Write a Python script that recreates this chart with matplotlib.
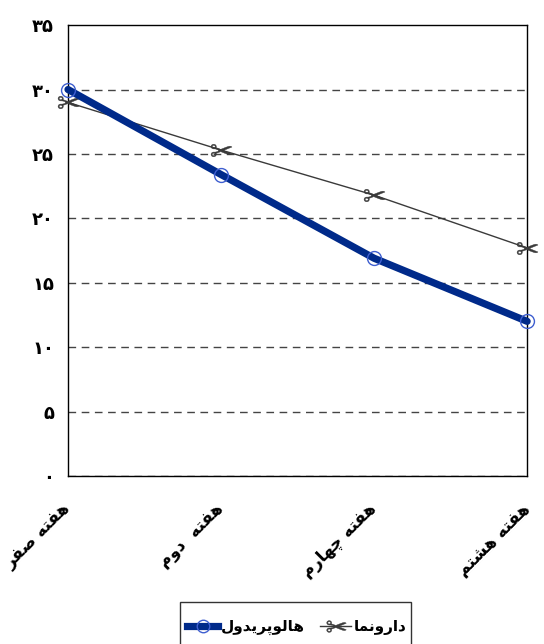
import matplotlib
matplotlib.use("Agg")
import matplotlib.pyplot as plt
from matplotlib.lines import Line2D
from matplotlib.patches import Rectangle
from matplotlib.transforms import ScaledTranslation

# ---- data ----
weeks = ["هفته صفر", "هفته  دوم", "هفته چهارم", "هفته هشتم"]
haloperidol = [30.0, 23.4, 16.9, 12.0]
placebo = [29.0, 25.3, 21.8, 17.7]
series_names = ["هالوپریدول", "دارونما"]
y_ticks = [0, 5, 10, 15, 20, 25, 30, 35]

# ---- minimal Persian shaping (presentation forms + visual order) ----
FORMS = {
    # char: (isolated, final, initial, medial)
    "ا": ("\uFE8D", "\uFE8E", None, None),
    "ب": ("\uFE8F", "\uFE90", "\uFE91", "\uFE92"),
    "ت": ("\uFE95", "\uFE96", "\uFE97", "\uFE98"),
    "د": ("\uFEA9", "\uFEAA", None, None),
    "ر": ("\uFEAD", "\uFEAE", None, None),
    "ش": ("\uFEB5", "\uFEB6", "\uFEB7", "\uFEB8"),
    "ص": ("\uFEB9", "\uFEBA", "\uFEBB", "\uFEBC"),
    "ف": ("\uFED1", "\uFED2", "\uFED3", "\uFED4"),
    "ل": ("\uFEDD", "\uFEDE", "\uFEDF", "\uFEE0"),
    "م": ("\uFEE1", "\uFEE2", "\uFEE3", "\uFEE4"),
    "ن": ("\uFEE5", "\uFEE6", "\uFEE7", "\uFEE8"),
    "ه": ("\uFEE9", "\uFEEA", "\uFEEB", "\uFEEC"),
    "و": ("\uFEED", "\uFEEE", None, None),
    "ی": ("\uFBFC", "\uFBFD", "\uFBFE", "\uFBFF"),
    "پ": ("\uFB56", "\uFB57", "\uFB58", "\uFB59"),
    "چ": ("\uFB7A", "\uFB7B", "\uFB7C", "\uFB7D"),
}


def joins_left(ch):
    return ch in FORMS and FORMS[ch][2] is not None


def shape(text):
    out = []
    for i, ch in enumerate(text):
        if ch not in FORMS:
            out.append(ch)
            continue
        prev = text[i - 1] if i > 0 else ""
        nxt = text[i + 1] if i + 1 < len(text) else ""
        p = joins_left(prev)
        n = joins_left(ch) and nxt in FORMS
        iso, fin, ini, med = FORMS[ch]
        if p and n:
            out.append(med)
        elif p:
            out.append(fin)
        elif n:
            out.append(ini)
        else:
            out.append(iso)
    return "".join(out)[::-1]


def fa_digits(n):
    return str(n).translate(str.maketrans("0123456789", "۰۱۲۳۴۵۶۷۸۹"))


# ---- figure ----
fig = plt.figure(figsize=(5.44, 6.44), dpi=100)
ax = fig.add_axes([0.125, 0.261, 0.844, 0.700])

x = list(range(len(weeks)))

for yv in y_ticks[:-1]:
    ax.axhline(yv, color="#444444", lw=1.0, dashes=(5.5, 4), zorder=1)

scissors = "$\u2702$"
ax.plot(x, placebo, color="#3a3a3a", lw=1.0, marker=scissors,
        markersize=15, markeredgewidth=0.3, zorder=3, clip_on=False)
ax.plot(x, haloperidol, color="#002a8a", lw=5.2, solid_capstyle="round",
        marker="o", markersize=10, markerfacecolor="none",
        markeredgecolor="#3f5fd0", markeredgewidth=1.0, zorder=4, clip_on=False)

ax.set_xlim(0, 3)
ax.set_ylim(0, 35)
ax.set_yticks(y_ticks)
ax.set_yticklabels([fa_digits(v) for v in y_ticks], fontsize=13, fontweight="bold")
ax.set_xticks(x)
ax.set_xticklabels([])
ax.tick_params(axis="both", length=0)
ax.tick_params(axis="y", pad=10)
for s in ax.spines.values():
    s.set_color("black")
    s.set_linewidth(1.0)

# category labels, rotated and hanging below each category position
label_offset = ScaledTranslation(-5 / 72, -17 / 72, fig.dpi_scale_trans)
for xi, w in zip(x, weeks):
    ax.text(xi, 0, shape(w), transform=ax.get_xaxis_transform() + label_offset,
            fontsize=12, fontweight="bold", rotation=45, ha="right", va="top",
            rotation_mode="anchor", clip_on=False)

handles = [
    Line2D([], [], color="#002a8a", lw=5.2, marker="o", markersize=9,
           markerfacecolor="none", markeredgecolor="#3f5fd0", markeredgewidth=1.0),
    Line2D([], [], color="#3a3a3a", lw=1.0, marker=scissors, markersize=14,
           markeredgewidth=0.3),
]
labels = [shape(series_names[0]), shape(series_names[1])]
fig.legend(handles, labels, loc="center", bbox_to_anchor=(0.546, 0.0264),
           ncol=2, markerfirst=True, frameon=False,
           prop={"weight": "bold", "size": 11},
           handlelength=2.0, handletextpad=0.2, columnspacing=1.0,
           borderpad=0.3, borderaxespad=0)
fig.add_artist(Rectangle((180 / 544, -0.05), 231 / 544, 0.05 + 42 / 644,
                         transform=fig.transFigure, fill=False,
                         edgecolor="#333333", lw=1.0))

fig.savefig("out.png", dpi=100)
